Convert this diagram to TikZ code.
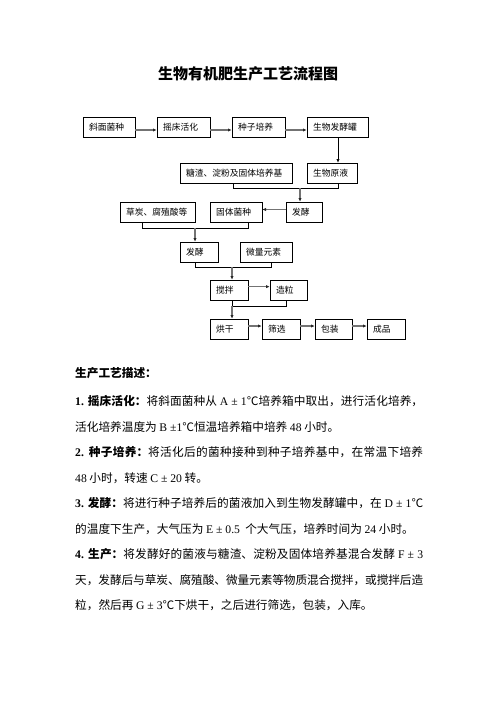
\documentclass[tikz,border=0pt]{standalone}
\usepackage{fontspec}
\setmainfont{Noto Sans CJK SC}
\newfontfamily\lat{Liberation Serif}
\XeTeXlinebreaklocale "zh"
\XeTeXlinebreakskip=0pt plus 1pt minus 0.3pt
\usetikzlibrary{arrows.meta, positioning, calc}

\begin{document}
\begin{tikzpicture}[
    x=1.2pt, y=-1.2pt,
    box/.style={rectangle, draw=black, line width=0.6pt, minimum height=24pt, inner xsep=7.2pt, inner ysep=0pt, align=left, font=\fontsize{10.5pt}{12pt}\selectfont},
    garrow/.style={-{Latex[length=4.5pt, width=4pt, color=black!85]}, line width=1.8pt, draw=black!55},
    tarrow/.style={-{Latex[length=4.5pt, width=4pt]}, line width=0.7pt},
    line/.style={line width=0.7pt}
]
\useasboundingbox (0,0) rectangle (496,702);

% Title
\node[font=\fontsize{18pt}{20pt}\selectfont\bfseries] (title) at (248,74) {生物有机肥生产工艺流程图};

% Nodes
\node[box, text width=48pt] (xmjz) at (109,127.5) {斜面菌种};
\node[box, text width=49.2pt] (yhhh) at (183.5,127.5) {摇床活化};
\node[box, text width=49.2pt] (zzpy) at (258.5,127.5) {种子培养};
\node[box, text width=58.8pt] (swfjg) at (337.5,127.5) {生物发酵罐};

\node[box, text width=120pt] (tz) at (236,173) {糖渣、淀粉及固体培养基};
\node[box, text width=45.6pt] (swyy) at (332,173) {生物原液};

\node[box, text width=75.6pt] (ct) at (157.5,212) {草炭、腐殖酸等};
\node[box, text width=48pt] (gtjz) at (236,212) {固体菌种};
\node[box, text width=28.8pt] (fj1) at (304,212) {发酵};

\node[box, text width=31.2pt] (fj2) at (199,252) {发酵};
\node[box, text width=48pt] (wlys) at (266,252) {微量元素};

\node[box, text width=31.2pt] (jb) at (229,290) {搅拌};
\node[box, text width=30pt] (zl) at (288.5,290) {造粒};

\node[box, text width=31.2pt] (hg) at (229,329) {烘干};
\node[box, text width=31.2pt] (sx) at (281,329) {筛选};
\node[box, text width=30pt] (bz) at (333.5,329) {包装};
\node[box, text width=31.2pt] (cp) at (386,329) {成品};

% Bracket corners
\coordinate (b2l) at (233,188);
\coordinate (b2r) at (338,188);
\coordinate (b2m) at (300,188);
\coordinate (b3l) at (142,228);
\coordinate (b3r) at (248,228);
\coordinate (b3m) at (195,228);
\coordinate (b4l) at (195,267);
\coordinate (b4r) at (271,267);
\coordinate (b4m) at (232,267);
\coordinate (b5l) at (232,306);
\coordinate (b5r) at (286,306);

% Paths
\draw[garrow] ([yshift=-3pt]xmjz.east) -- ([yshift=-3pt]yhhh.west);
\draw[garrow] ([yshift=-3pt]yhhh.east) -- ([yshift=-3pt]zzpy.west);
\draw[garrow] ([yshift=-3pt]zzpy.east) -- ([yshift=-3pt]swfjg.west);
\draw[tarrow] (swfjg.south -| b2r) -- (swyy.north -| b2r);

\draw[line] (tz.south -| b2l) -- (b2l) -- (b2r) -- (swyy.south -| b2r);
\draw[garrow] (b2m) -- (fj1.north -| b2m);
\draw[garrow] ([yshift=3pt]fj1.west) -- ([yshift=3pt]gtjz.east);

\draw[line] (ct.south -| b3l) -- (b3l) -- (b3r) -- (gtjz.south -| b3r);
\draw[garrow] (b3m) -- (fj2.north -| b3m);

\draw[line] (fj2.south -| b4l) -- (b4l) -- (b4r) -- (wlys.south -| b4r);
\draw[garrow] (b4m) -- (jb.north -| b4m);
\draw[garrow] ([yshift=4pt]jb.east) -- ([yshift=4pt]zl.west);

\draw[line] (jb.south -| b5l) -- (b5l) -- (b5r) -- (zl.south -| b5r);
\draw[garrow] (b5l) -- (hg.north -| b5l);
\draw[garrow] ([yshift=3.6pt]hg.east) -- ([yshift=3.6pt]sx.west);
\draw[garrow] ([yshift=3.6pt]sx.east) -- ([yshift=3.6pt]bz.west);
\draw[garrow] ([yshift=3.6pt]bz.east) -- ([yshift=3.6pt]cp.west);

% Description
\node[anchor=base west, inner sep=0pt, font=\fontsize{14pt}{16pt}\selectfont\bfseries] (head) at (75,377.5) {生产工艺描述：};
\node[anchor=base west, inner sep=0pt, text width=417.6pt, align=justify, font=\fontsize{14pt}{30.6pt}\selectfont] (desc) at (75,405.5) {%
\textbf{\lat 1.} \textbf{摇床活化：}将斜面菌种从 {\lat A ± 1}℃培养箱中取出，进行活化培养，\linebreak
活化培养温度为 {\lat B ±1}℃恒温培养箱中培养 {\lat 48} 小时。\par
\textbf{\lat 2.} \textbf{种子培养：}将活化后的菌种接种到种子培养基中，在常温下培养\linebreak
{\lat 48} 小时，转速 {\lat C ± 20} 转。\par
\textbf{\lat 3.} \textbf{发酵：}将进行种子培养后的菌液加入到生物发酵罐中，在 {\lat D ± 1}℃\linebreak
的温度下生产，大气压为 {\lat E ± 0.5}\ \ 个大气压，培养时间为 {\lat 24} 小时。\par
\textbf{\lat 4.} \textbf{生产：}将发酵好的菌液与糖渣、淀粉及固体培养基混合发酵 {\lat F ± 3}\linebreak
天，发酵后与草炭、腐殖酸、微量元素等物质混合搅拌，或搅拌后造\linebreak
粒，然后再 {\lat G ± 3}℃下烘干，之后进行筛选，包装，入库。};

\end{tikzpicture}
\end{document}
